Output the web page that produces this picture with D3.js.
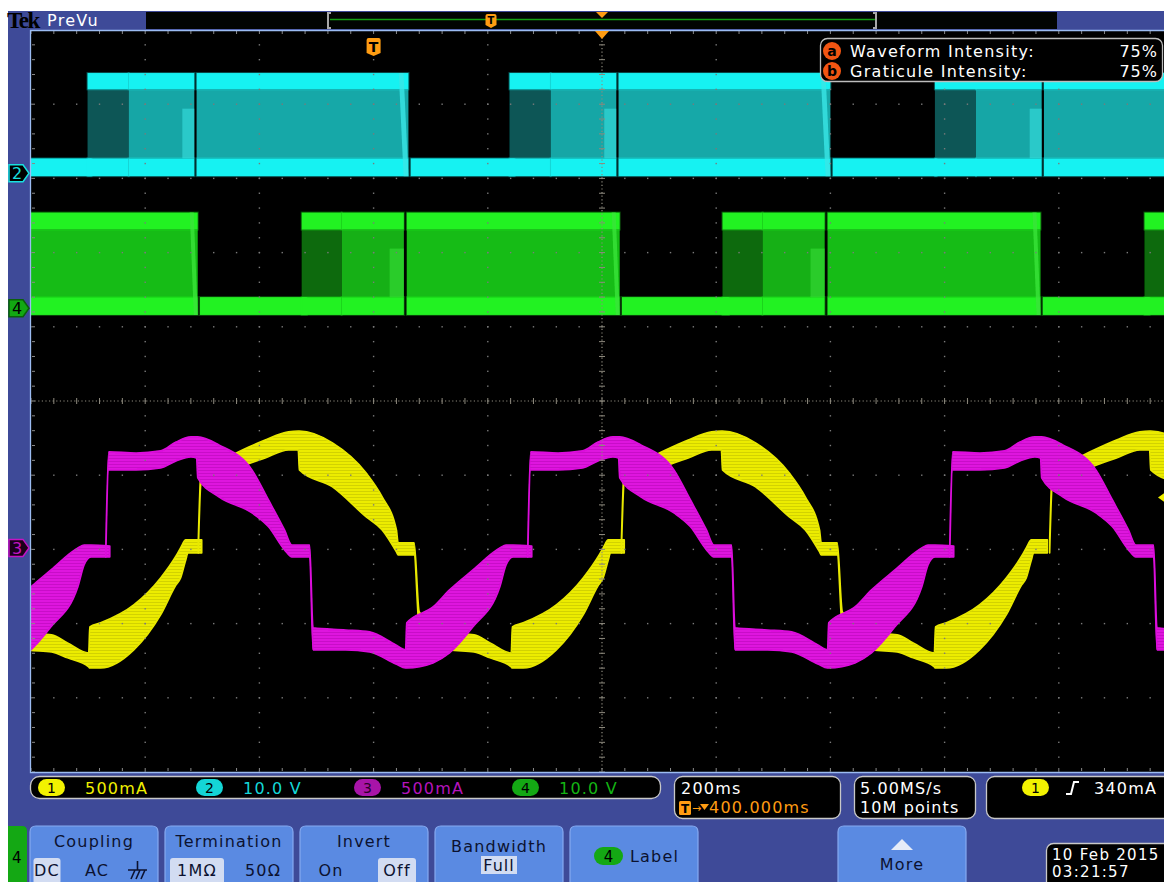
<!DOCTYPE html>
<html>
<head>
<meta charset="utf-8">
<script src="https://cdn.jsdelivr.net/npm/d3@7"></script>
<style>
  html, body { margin: 0; padding: 0; background: #ffffff; }
  svg { display: block; font-family: "DejaVu Sans", sans-serif; }
</style>
</head>
<body>
<svg id="scope" width="1164" height="882"></svg>
<script>
// ---------------- acquisition settings ----------------
const timePerDiv = 200;           // ms / div
const triggerToCenter = 400;      // ms, trigger point -> expansion point
const channelNames = ["1", "2", "3", "4"];
const channelScaleText = ["500mA", "10.0 V", "500mA", "10.0 V"];
const channelPerDiv = [0.5, 10, 0.5, 10];            // A/div, V/div, A/div, V/div
const channelOffsetDiv = [-1.98, 3.07, -1.98, 1.25]; // ground marker, divisions above centre
const triggerLevel = 0.34;                           // A on channel 1

// ---------------- channel 1 (yellow, current) ----------------
// one electrical cycle: [ms from cycle start, upper edge A, lower edge A]
const ch1Cycle = [
  [0, 0.054, -0.034], [5, 0.539, 0.431], [35, 0.580, 0.472], [70, 0.647, 0.539],
  [117, 0.728, 0.606], [158, 0.782, 0.660], [175, 0.788, 0.660], [177, 0.788, 0.526],
  [235, 0.708, 0.411], [294, 0.505, 0.209], [322, 0.344, 0.121], [347, 0.121, -0.027],
  [350, 0.034, -0.047], [378, 0.034, -0.047], [387, -0.431, -0.539], [440, -0.573, -0.687],
  [483, -0.586, -0.701], [511, -0.640, -0.741], [548, -0.708, -0.802], [550, -0.532, -0.809],
  [569, -0.505, -0.809], [627, -0.384, -0.687], [674, -0.202, -0.451], [701, -0.054, -0.249],
  [709, 0.000, -0.202], [718, 0.054, -0.081], [722, 0.054, -0.034], [746, 0.054, -0.034]
];
const ch1CycleStarts = [-1047, -307, 434, 1184];

// ---------------- channel 3 (magenta, current) ----------------
const ch3Cycle = [
  [0, 0.013, -0.061], [5, 0.647, 0.526], [53, 0.640, 0.526], [96, 0.654, 0.539],
  [123, 0.714, 0.586], [149, 0.748, 0.613], [159, 0.748, 0.606], [161, 0.748, 0.472],
  [198, 0.694, 0.344], [256, 0.526, 0.236], [285, 0.323, 0.142], [313, 0.121, -0.013],
  [326, 0.020, -0.061], [357, 0.020, -0.061], [363, -0.539, -0.687], [420, -0.553, -0.687],
  [462, -0.566, -0.701], [508, -0.654, -0.782], [525, -0.687, -0.809], [527, -0.505, -0.809],
  [573, -0.398, -0.775], [602, -0.283, -0.708], [643, -0.148, -0.532], [690, 0.000, -0.263],
  [701, 0.020, -0.115], [713, 0.020, -0.061], [746, 0.013, -0.061]
];
const ch3CycleStarts = [-1208, -469, 270, 1009];

// ---------------- channels 2 / 4 (logic drive, volts) ----------------
const ch2LowBand = [-0.4, 2.0];
const ch2HighBand = [11.3, 13.5];
const ch4LowBand = [-0.9, 1.5];
const ch4HighBand = [10.6, 12.9];
// segments of one cycle: [start ms, end ms, kind]
const ch2Segments = [[0, 72, "dark"], [72, 187, "light"], [166, 187, "strip"],
                     [191, 562, "fill"], [545, 562, "edge"], [566, 748, "low"]];
const ch2CycleStarts = [-1242, -501, 238, 983];
const ch4Segments = [[0, 70, "dark"], [70, 179, "light"], [154, 179, "strip"],
                     [184, 557, "fill"], [543, 557, "edge"], [561, 748, "low"]];
const ch4CycleStarts = [-865, -126, 611, 1350];

// ---------------- readouts ----------------
const timebaseText = ["200ms", "400.000ms"];
const acquisitionText = ["5.00MS/s", "10M points"];
const triggerText = "340mA";
const intensityLabels = ["Waveform Intensity:", "Graticule Intensity:"];
const intensityValues = ["75%", "75%"];
const menuTitles = ["Coupling", "Termination", "Invert", "Bandwidth"];
const dateText = ["10 Feb  2015", "03:21:57"];

// ======================================================================
const svg = d3.select("#scope");
const BLUE = "#3e4a98";
const G = { x0: 31, y0: 30, x1: 1173, y1: 772 };   // 10 x 10 division graticule
const divW = (G.x1 - G.x0) / 10, divH = (G.y1 - G.y0) / 10;

const x = d3.scaleLinear()
  .domain([triggerToCenter - 5 * timePerDiv, triggerToCenter + 5 * timePerDiv])
  .range([G.x0, G.x1]);
const yCh = channelPerDiv.map((p, i) => d3.scaleLinear()
  .domain([(-5 - channelOffsetDiv[i]) * p, (5 - channelOffsetDiv[i]) * p])
  .range([G.y1, G.y0]));

const defs = svg.append("defs");
defs.append("clipPath").attr("id", "gratClip")
  .append("rect").attr("x", G.x0).attr("y", G.y0).attr("width", 1164 - G.x0).attr("height", G.y1 - G.y0);
defs.append("filter").attr("id", "soft").attr("x", "-5%").attr("y", "-5%").attr("width", "110%").attr("height", "110%")
  .append("feGaussianBlur").attr("stdDeviation", 0.55);
// fine horizontal striations of the persistence display
function stripes(id, base, line) {
  const p = defs.append("pattern").attr("id", id).attr("patternUnits", "userSpaceOnUse")
    .attr("width", 8).attr("height", 3);
  p.append("rect").attr("width", 8).attr("height", 3).attr("fill", base);
  p.append("rect").attr("y", 2).attr("width", 8).attr("height", 1).attr("fill", line);
}
stripes("yelStripe", "#ecec00", "#d2d200");
stripes("magStripe", "#de12de", "#c80ac8");

// instrument background
svg.append("rect").attr("x", 8).attr("y", 11).attr("width", 1164 - 8).attr("height", 882 - 11).attr("fill", BLUE);

// ---------------- header ----------------
const hdr = svg.append("g");
hdr.append("text").attr("x", 7).attr("y", 28).attr("font-family", "Liberation Serif")
  .attr("font-weight", "bold").attr("font-size", 23).attr("letter-spacing", -1.5).attr("fill", "#000").text("Tek");
hdr.append("text").attr("x", 47).attr("y", 26).attr("font-size", 16).attr("letter-spacing", 1.3)
  .attr("fill", "#ffffff").text("PreVu");
hdr.append("rect").attr("x", 146).attr("y", 12).attr("width", 911).attr("height", 17).attr("fill", "#020402");
hdr.append("line").attr("x1", 330).attr("x2", 875).attr("y1", 19.5).attr("y2", 19.5)
  .attr("stroke", "#14a014").attr("stroke-width", 1.3);
[[328, 1], [876, -1]].forEach(([bx, dir]) => {
  hdr.append("path").attr("d", `M${bx + 3 * dir},13 H${bx} V28 H${bx + 3 * dir}`)
    .attr("fill", "none").attr("stroke", "#a8a8a8").attr("stroke-width", 2);
});
function tMarker(g, cx, top, w, h) {
  g.append("path").attr("d",
    `M${cx - w / 2 + 2},${top} H${cx + w / 2 - 2} Q${cx + w / 2},${top} ${cx + w / 2},${top + 2} V${top + h - 3} L${cx},${top + h} L${cx - w / 2},${top + h - 3} V${top + 2} Q${cx - w / 2},${top} ${cx - w / 2 + 2},${top} Z`)
    .attr("fill", "#ff9c12");
  g.append("text").attr("x", cx).attr("y", top + h - 4).attr("text-anchor", "middle")
    .attr("font-size", h - 4).attr("font-weight", "bold").attr("fill", "#000").text("T");
}
tMarker(hdr, 491, 14, 11, 14);
hdr.append("path").attr("d", "M596,12 L608,12 L602,18 Z").attr("fill", "#ff9c12");

// ---------------- graticule area ----------------
svg.append("rect").attr("x", G.x0).attr("y", G.y0).attr("width", 1164 - G.x0).attr("height", G.y1 - G.y0).attr("fill", "#000");

const wave = svg.append("g").attr("clip-path", "url(#gratClip)");

// logic channels
function drawLogic(g, ys, lowBand, highBand, segments, starts, col) {
  const hiTop = ys(highBand[1]), hiBot = ys(highBand[0]);
  const loTop = ys(lowBand[1]), loBot = ys(lowBand[0]);
  const lay = g.append("g").attr("filter", "url(#soft)");
  const band = (a, b, y0, y1) => lay.append("rect").attr("x", x(a)).attr("width", x(b) - x(a))
    .attr("y", y0).attr("height", y1 - y0).attr("fill", col.band)
    .attr("stroke", col.band).attr("stroke-opacity", 0.3).attr("stroke-width", 2);
  starts.forEach(s => {
    segments.forEach(([a, b, kind]) => {
      const t0 = s + a, t1 = s + b;
      if (kind === "dark" || kind === "light" || kind === "fill") {
        lay.append("rect").attr("x", x(t0)).attr("width", x(t1) - x(t0))
          .attr("y", hiBot).attr("height", loTop - hiBot).attr("fill", col[kind]);
        band(t0, t1, hiTop, hiBot);
        band(t0, t1, loTop, loBot);
      } else if (kind === "low") {
        band(t0, t1, loTop, loBot);
      }
    });
    segments.forEach(([a, b, kind]) => {
      const t0 = s + a, t1 = s + b;
      if (kind === "strip") {
        lay.append("rect").attr("x", x(t0)).attr("width", x(t1) - x(t0))
          .attr("y", hiBot + (loTop - hiBot) * 0.28).attr("height", (loTop - hiBot) * 0.72)
          .attr("fill", col.strip).attr("opacity", 0.55);
      } else if (kind === "edge") {
        const xa = x(t0), xb = x(t1), xm = (xa + xb) / 2;
        lay.append("path").attr("d", `M${xa},${hiTop} L${xm},${hiTop} L${xb},${loBot} L${xm},${loBot} Z`)
          .attr("fill", col.strip).attr("opacity", 0.8);
      }
    });
  });
}
drawLogic(wave, yCh[1], ch2LowBand, ch2HighBand, ch2Segments, ch2CycleStarts,
  { band: "#16f2f2", fill: "#15a8a8", dark: "#0a5656", light: "#17a6a6", strip: "#3ae6e6" });
drawLogic(wave, yCh[3], ch4LowBand, ch4HighBand, ch4Segments, ch4CycleStarts,
  { band: "#22f222", fill: "#14bc14", dark: "#0b6a0b", light: "#14b014", strip: "#3ae43a" });

// current channels as persistence bands
function drawCurrent(g, ys, cycle, starts, fill, edge) {
  const area = d3.area().x(d => x(d.t)).y0(d => ys(d.lo)).y1(d => ys(d.hi)).curve(d3.curveMonotoneX);
  const lay = g.append("g").attr("filter", "url(#soft)");
  starts.forEach(s => {
    const pts = cycle.map(([t, hi, lo]) => ({ t: s + t, hi, lo }));
    lay.append("path").attr("d", area(pts)).attr("fill", fill)
      .attr("stroke", edge).attr("stroke-width", 1.6).attr("stroke-linejoin", "round");
  });
}
drawCurrent(wave, yCh[0], ch1Cycle, ch1CycleStarts, "url(#yelStripe)", "#e8e800");
drawCurrent(wave, yCh[2], ch3Cycle, ch3CycleStarts, "url(#magStripe)", "#dc0edc");

// ---------------- grid ----------------
const grid = svg.append("g").attr("clip-path", "url(#gratClip)");
const majorX = x.ticks(10);                       // every 200 ms
const minorX = d3.range(x.domain()[0], x.domain()[1] + 1, timePerDiv / 5);
const majorY = d3.range(0, 11).map(j => G.y0 + j * divH);
const minorY = d3.range(0, 51).map(j => G.y0 + j * divH / 5);
const centerX = x(triggerToCenter), centerY = (G.y0 + G.y1) / 2;
const dotCol = "#7a7a7a";

majorX.slice(1, -1).forEach(t => {
  const gx = x(t);
  if (Math.abs(gx - centerX) < 1) return;
  minorY.forEach(gy => grid.append("rect").attr("x", gx - 0.7).attr("y", gy - 0.7)
    .attr("width", 1.4).attr("height", 1.4).attr("fill", dotCol));
});
majorY.slice(1, -1).forEach(gy => {
  if (Math.abs(gy - centerY) < 1) return;
  minorX.forEach(t => grid.append("rect").attr("x", x(t) - 0.7).attr("y", gy - 0.7)
    .attr("width", 1.4).attr("height", 1.4).attr("fill", dotCol));
});
// centre cross lines: fine dotted with minor tick marks
grid.append("line").attr("x1", centerX).attr("x2", centerX).attr("y1", G.y0).attr("y2", G.y1)
  .attr("stroke", "#8e8a7e").attr("stroke-width", 1.2).attr("stroke-dasharray", "1.2,2.4");
grid.append("line").attr("x1", G.x0).attr("x2", G.x1).attr("y1", centerY).attr("y2", centerY)
  .attr("stroke", "#8e8a7e").attr("stroke-width", 1.2).attr("stroke-dasharray", "1.2,2.4");
minorY.forEach(gy => grid.append("line").attr("x1", centerX - 3).attr("x2", centerX + 3)
  .attr("y1", gy).attr("y2", gy).attr("stroke", "#8e8a7e").attr("stroke-width", 1));
minorX.forEach(t => grid.append("line").attr("x1", x(t)).attr("x2", x(t))
  .attr("y1", centerY - 3).attr("y2", centerY + 3).attr("stroke", "#8e8a7e").attr("stroke-width", 1));
// edge ticks
minorX.forEach(t => {
  grid.append("line").attr("x1", x(t)).attr("x2", x(t)).attr("y1", G.y0 + 1).attr("y2", G.y0 + 4)
    .attr("stroke", "#8a8a8a");
  grid.append("line").attr("x1", x(t)).attr("x2", x(t)).attr("y1", G.y1 - 4).attr("y2", G.y1 - 1)
    .attr("stroke", "#8a8a8a");
});
minorY.forEach(gy => grid.append("line").attr("x1", G.x0 + 1).attr("x2", G.x0 + 4)
  .attr("y1", gy).attr("y2", gy).attr("stroke", "#8a8a8a"));

// graticule frame
svg.append("path").attr("d", `M1164,${G.y0 + 0.5} H${G.x0 - 0.5} V${G.y1 + 0.5} H1164`)
  .attr("fill", "none").attr("stroke", "#9cbcf2").attr("stroke-width", 1.3);

// trigger position + expansion point markers
tMarker(svg, x(0), 38, 14, 18);
svg.append("path").attr("d", `M${centerX - 7},${G.y0 + 1} L${centerX + 7},${G.y0 + 1} L${centerX},${G.y0 + 9} Z`)
  .attr("fill", "#ff9c12");

// trigger level marker at the right edge
const trigY = yCh[0](triggerLevel);
svg.append("path").attr("d", `M1158,${trigY} L1165,${trigY - 5} L1165,${trigY + 5} Z`).attr("fill", "#f0f000");

// ---------------- channel ground markers ----------------
const markerStyle = [
  null,
  { fill: "#000", stroke: "#18e0e0", text: "#18e0e0" },
  { fill: "#1a001a", stroke: "#c414c4", text: "#c414c4" },
  { fill: "#12a812", stroke: "#0a600a", text: "#000" }
];
[1, 2, 3].forEach(i => {
  const gy = yCh[i](0), st = markerStyle[i];
  svg.append("path").attr("d", `M9,${gy - 8.5} H23 L29,${gy} L23,${gy + 8.5} H9 Z`)
    .attr("fill", st.fill).attr("stroke", st.stroke).attr("stroke-width", 1.5);
  svg.append("text").attr("x", 17).attr("y", gy + 6).attr("text-anchor", "middle")
    .attr("font-size", 16).attr("fill", st.text).text(channelNames[i]);
});

// ---------------- intensity overlay ----------------
const ov = svg.append("g");
ov.append("rect").attr("x", 820.5).attr("y", 38.5).attr("width", 342).attr("height", 43).attr("rx", 7)
  .attr("fill", "#000").attr("stroke", "#bdbdbd").attr("stroke-width", 1.3);
["a", "b"].forEach((k, i) => {
  const cy = 51 + i * 20;
  ov.append("circle").attr("cx", 832).attr("cy", cy).attr("r", 9).attr("fill", "#f25512");
  ov.append("text").attr("x", 832).attr("y", cy + 5).attr("text-anchor", "middle")
    .attr("font-size", 14).attr("font-weight", "bold").attr("fill", "#000").text(k);
  ov.append("text").attr("x", 850).attr("y", cy + 6).attr("font-size", 16).attr("letter-spacing", 1.3)
    .attr("fill", "#fff").text(intensityLabels[i]);
  ov.append("text").attr("x", 1158).attr("y", cy + 6).attr("text-anchor", "end").attr("font-size", 16)
    .attr("letter-spacing", 1).attr("fill", "#fff").text(intensityValues[i]);
});

// ---------------- status readouts ----------------
const pillColors = ["#f2f200", "#14d6d6", "#a814a8", "#14a814"];
const scaleColors = ["#f0f000", "#14d8d8", "#b414bc", "#14b414"];
const st = svg.append("g");
const roundBox = (x0, y0, w, h, r) => st.append("rect").attr("x", x0 + 0.5).attr("y", y0 + 0.5)
  .attr("width", w).attr("height", h).attr("rx", r).attr("fill", "#000")
  .attr("stroke", "#c8c8c8").attr("stroke-width", 1.3);
const pill = (g, px, py, i) => {
  g.append("rect").attr("x", px).attr("y", py).attr("width", 27).attr("height", 17).attr("rx", 8.5)
    .attr("fill", pillColors[i]);
  g.append("text").attr("x", px + 13.5).attr("y", py + 14).attr("text-anchor", "middle")
    .attr("font-size", 14).attr("fill", i === 2 ? "#2a002a" : "#000").text(channelNames[i]);
};
roundBox(30, 776, 630, 22, 9);
channelNames.forEach((n, i) => {
  const px = 38 + i * 158;
  pill(st, px, 779, i);
  st.append("text").attr("x", px + 47).attr("y", 794).attr("font-size", 16).attr("letter-spacing", 1.2)
    .attr("fill", scaleColors[i]).text(channelScaleText[i]);
});
roundBox(674, 776, 166, 42, 8);
st.append("text").attr("x", 681).attr("y", 794).attr("font-size", 16).attr("letter-spacing", 1.2)
  .attr("fill", "#fff").text(timebaseText[0]);
st.append("rect").attr("x", 679).attr("y", 801).attr("width", 12).attr("height", 14).attr("rx", 1.5).attr("fill", "#ff9c12");
st.append("text").attr("x", 685).attr("y", 813).attr("text-anchor", "middle").attr("font-size", 12)
  .attr("font-weight", "bold").attr("fill", "#000").text("T");
st.append("text").attr("x", 692).attr("y", 812).attr("font-size", 11).attr("fill", "#ff9c12").text("→");
st.append("path").attr("d", "M700,804 L709,804 L704.5,810 Z").attr("fill", "#ff9c12");
st.append("text").attr("x", 709).attr("y", 813).attr("font-size", 16).attr("letter-spacing", 1.2)
  .attr("fill", "#ff9c12").text(timebaseText[1]);
roundBox(854, 776, 121, 42, 8);
acquisitionText.forEach((t, i) => st.append("text").attr("x", 860).attr("y", 794 + i * 19)
  .attr("font-size", 16).attr("letter-spacing", 1.1).attr("fill", "#fff").text(t));
roundBox(986, 776, 200, 42, 8);
pill(st, 1022, 779, 0);
st.append("path").attr("d", "M1066,794 H1071 L1074,782 H1079").attr("fill", "none")
  .attr("stroke", "#fff").attr("stroke-width", 2);
st.append("text").attr("x", 1094).attr("y", 794).attr("font-size", 16).attr("letter-spacing", 1.2)
  .attr("fill", "#fff").text(triggerText);

// ---------------- soft-key menu ----------------
const menu = svg.append("g");
const BTN = "#5a8ae2", BTN_HI = "#d2dcf2", INK = "#0c1230";
const button = (bx, w) => {
  menu.append("path").attr("d", `M${bx},890 V${832} Q${bx},826 ${bx + 6},826 H${bx + w - 6} Q${bx + w},826 ${bx + w},832 V890 Z`)
    .attr("fill", BTN).attr("stroke", "#86aaf0").attr("stroke-width", 1.2);
};
// side tab of the selected channel
menu.append("path").attr("d", "M8,826 H22 Q27,826 27,831 V882 H8 Z").attr("fill", "#14a814");
menu.append("text").attr("x", 12).attr("y", 863).attr("font-size", 15).attr("fill", "#000").text("4");

const btnX = [30, 165, 300, 435, 570];
menuTitles.forEach((t, i) => {
  button(btnX[i], 128);
  menu.append("text").attr("x", btnX[i] + 64).attr("y", i === 3 ? 852 : 847).attr("text-anchor", "middle")
    .attr("font-size", 16).attr("letter-spacing", 1.2).attr("fill", INK).text(t);
});
const option = (cx, label, on, w) => {
  if (on) menu.append("rect").attr("x", cx - w / 2).attr("y", 858).attr("width", w).attr("height", 26)
    .attr("rx", 3).attr("fill", BTN_HI);
  menu.append("text").attr("x", cx).attr("y", 876).attr("text-anchor", "middle").attr("font-size", 16)
    .attr("letter-spacing", 1.2).attr("fill", INK).text(label);
};
option(47, "DC", true, 27);
option(97, "AC", false, 0);
menu.append("path").attr("d", "M128,870 H147 M137.5,861 V870 M131,879 L135,870 M136,879 L140,870 M141,879 L145,870")
  .attr("fill", "none").attr("stroke", INK).attr("stroke-width", 1.6);
option(197, "1MΩ", true, 54);
option(263, "50Ω", false, 0);
option(331, "On", false, 0);
option(397, "Off", true, 38);
menu.append("rect").attr("x", 481).attr("y", 856).attr("width", 36).attr("height", 18).attr("fill", BTN_HI);
menu.append("text").attr("x", 499).attr("y", 871).attr("text-anchor", "middle").attr("font-size", 16)
  .attr("letter-spacing", 1).attr("fill", INK).text("Full");
button(570, 128);
menu.append("rect").attr("x", 594).attr("y", 847).attr("width", 29).attr("height", 18).attr("rx", 9).attr("fill", "#14a814");
menu.append("text").attr("x", 608.5).attr("y", 862).attr("text-anchor", "middle").attr("font-size", 15)
  .attr("fill", "#000").text("4");
menu.append("text").attr("x", 630).attr("y", 862).attr("font-size", 16).attr("letter-spacing", 1.2)
  .attr("fill", INK).text("Label");
button(838, 128);
menu.append("path").attr("d", "M891,850 L902,839 L913,850 Z").attr("fill", "#e6ecf8");
menu.append("text").attr("x", 902).attr("y", 870).attr("text-anchor", "middle").attr("font-size", 16)
  .attr("letter-spacing", 1.2).attr("fill", INK).text("More");

// date / time
menu.append("rect").attr("x", 1046.5).attr("y", 843.5).attr("width", 140).attr("height", 50).attr("rx", 7)
  .attr("fill", "#000").attr("stroke", "#c8c8c8").attr("stroke-width", 1.3);
dateText.forEach((t, i) => menu.append("text").attr("x", 1052).attr("y", 860 + i * 17)
  .attr("font-size", 15).attr("letter-spacing", 1.3).attr("fill", "#fff").text(t));
</script>
</body>
</html>
